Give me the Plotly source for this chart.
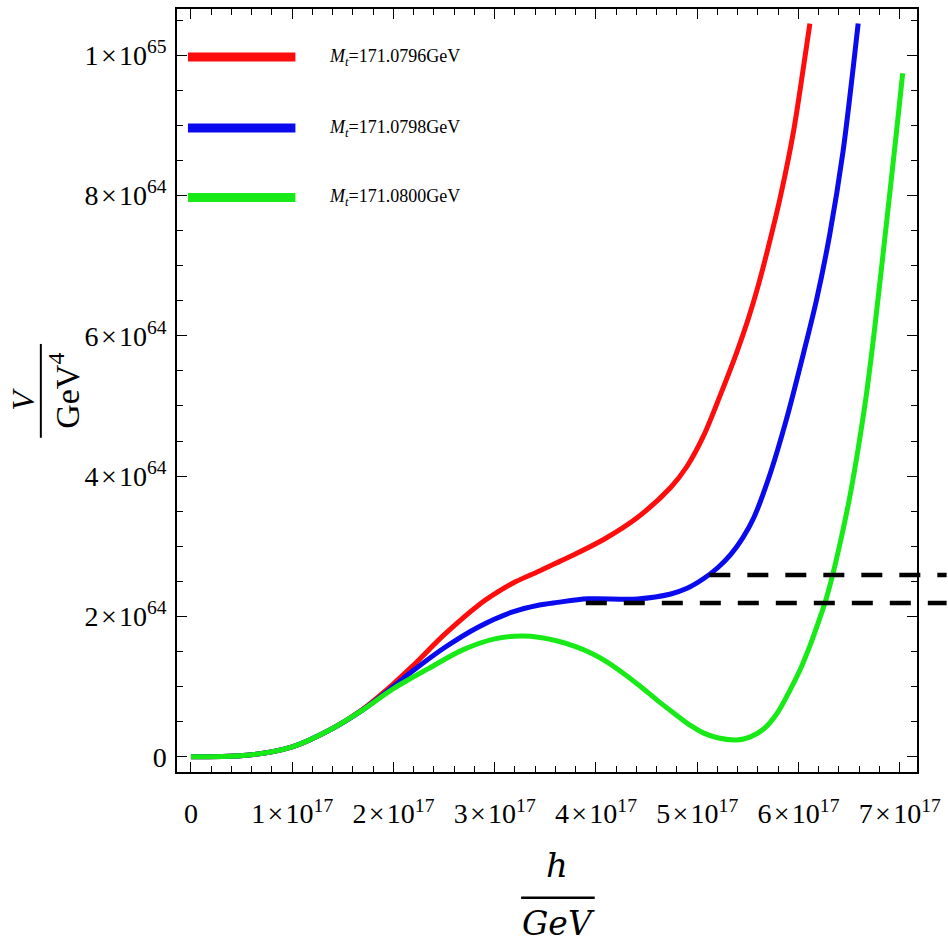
import numpy as np
import plotly.graph_objects as go

# ---------------- data (h in units of 1e17 GeV, V in units of 1e64 GeV^4) -------------
legend_names = ["<i>M</i><sub><i>t</i></sub>=171.0796GeV",
                "<i>M</i><sub><i>t</i></sub>=171.0798GeV",
                "<i>M</i><sub><i>t</i></sub>=171.0800GeV"]

red_h = [0, 0.55, 1.0, 1.37, 1.69, 2.0, 2.18, 2.51, 2.84, 3.0, 3.2, 3.43, 3.755, 4.08,
         4.41, 4.74, 4.90, 5.065, 5.23, 5.39, 5.50, 5.60, 5.70, 5.82, 5.95, 6.048, 6.113]
red_v = [0, 0.02, 0.14, 0.38, 0.67, 1.04, 1.28, 1.75, 2.16, 2.32, 2.49, 2.64, 2.86, 3.10,
         3.41, 3.84, 4.14, 4.58, 5.16, 5.76, 6.22, 6.70, 7.25, 7.97, 8.90, 9.81, 10.45]

blue_h = [0, 0.55, 1.0, 1.37, 1.69, 2.0, 2.18, 2.51, 2.84, 3.17, 3.43, 3.62, 3.92, 4.41,
          4.74, 4.90, 5.065, 5.20, 5.33, 5.45, 5.56, 5.72, 5.88, 6.05, 6.18, 6.31, 6.44,
          6.54, 6.59]
blue_v = [0, 0.02, 0.14, 0.38, 0.66, 1.0, 1.21, 1.56, 1.85, 2.06, 2.16, 2.20, 2.25, 2.25,
          2.32, 2.40, 2.54, 2.69, 2.88, 3.12, 3.41, 4.03, 4.80, 5.75, 6.52, 7.45, 8.62,
          9.81, 10.45]

green_h = [0, 0.55, 1.0, 1.37, 1.69, 2.0, 2.35, 2.68, 3.0, 3.26, 3.45, 3.62, 3.8, 3.95,
           4.1, 4.28, 4.45, 4.61, 4.78, 4.93, 5.06, 5.20, 5.39, 5.52, 5.66, 5.79, 5.917,
           6.02, 6.113, 6.20, 6.27, 6.336, 6.42, 6.50, 6.585, 6.67, 6.75, 6.857, 6.965,
           7.03]
green_v = [0, 0.02, 0.14, 0.38, 0.66, 0.97, 1.26, 1.52, 1.68, 1.72, 1.70, 1.65, 1.57, 1.48,
           1.36, 1.18, 0.99, 0.80, 0.61, 0.45, 0.34, 0.27, 0.24, 0.28, 0.40, 0.62, 0.95,
           1.25, 1.58, 1.93, 2.23, 2.58, 3.10, 3.65, 4.35, 5.15, 6.07, 7.44, 8.86, 9.74]

dash_levels = [2.19, 2.59]      # 1e64 GeV^4
dash_start = [3.9, 5.12]        # 1e17 GeV

x_ticks = [0, 1, 2, 3, 4, 5, 6, 7]
x_ticktext = ["0"] + [f"{k}\u200a\u00d7\u200a10<sup>17</sup>" for k in range(1, 8)]
y_ticks = [0, 2, 4, 6, 8, 10]
y_ticktext = ["0"] + [f"{m}\u200a\u00d7\u200a10<sup>{e}</sup>"
                      for m, e in [(2, 64), (4, 64), (6, 64), (8, 64), (1, 65)]]

HS, VS = 1e17, 1e64
x_range = [-0.1375 * HS, 7.171 * HS]
y_range = [-0.2175 * VS, 10.657 * VS]

colors = ["#ff0d0d", "#0a0aee", "#18ea18"]

fig = go.Figure()
for hh, vv, c in [(red_h, red_v, colors[0]), (blue_h, blue_v, colors[1]),
                  (green_h, green_v, colors[2])]:
    fig.add_trace(go.Scatter(x=np.array(hh) * HS, y=np.array(vv) * VS, mode="lines",
                             line=dict(color=c, width=5, shape="spline", smoothing=0.9),
                             showlegend=False, hoverinfo="skip"))

shapes = []
annotations = []
# dashed reference lines, extended past the right frame edge
for lvl, x0 in zip(dash_levels, dash_start):
    px0 = (x0 * HS - x_range[0]) / (x_range[1] - x_range[0])
    shapes.append(dict(type="line", xref="paper", yref="y", x0=px0, x1=1.04,
                       y0=lvl * VS, y1=lvl * VS,
                       line=dict(color="black", width=4.5, dash="21px,17px")))

# hand-drawn legend
leg_y = [0.937, 0.844, 0.753]
for name, c, ly in zip(legend_names, colors, leg_y):
    shapes.append(dict(type="line", xref="paper", yref="paper", x0=0.0148, x1=0.16,
                       y0=ly, y1=ly, line=dict(color=c, width=9)))
    annotations.append(dict(xref="paper", yref="paper", x=0.203, y=ly, text=name,
                            showarrow=False, xanchor="left", yanchor="middle",
                            font=dict(family="Liberation Serif", size=18, color="black")))

# y-axis title: V / GeV^4 (rotated fraction)
annotations.append(dict(xref="paper", yref="paper", x=-0.2083, y=0.489, text="<i>V</i>",
                        showarrow=False, textangle=-90, xanchor="center", yanchor="middle",
                        font=dict(family="Liberation Serif", size=32, color="black")))
shapes.append(dict(type="line", xref="paper", yref="paper", x0=-0.184, x1=-0.184,
                   y0=0.438, y1=0.561, line=dict(color="black", width=2)))
annotations.append(dict(xref="paper", yref="paper", x=-0.152, y=0.499,
                        text="GeV<sup>4</sup>", showarrow=False, textangle=-90,
                        xanchor="center", yanchor="middle",
                        font=dict(family="Liberation Serif", size=34, color="black")))

# x-axis title: h / GeV
annotations.append(dict(xref="paper", yref="paper", x=0.513, y=-0.1216, text="<i>h</i>",
                        showarrow=False, xanchor="center", yanchor="middle",
                        font=dict(family="DejaVu Serif", size=34, color="black")))
shapes.append(dict(type="line", xref="paper", yref="paper", x0=0.465, x1=0.5645,
                   y0=-0.1647, y1=-0.1647, line=dict(color="black", width=2.5)))
annotations.append(dict(xref="paper", yref="paper", x=0.515, y=-0.198, text="<i>GeV</i>",
                        showarrow=False, xanchor="center", yanchor="middle",
                        font=dict(family="DejaVu Serif", size=33, color="black")))

axis_common = dict(showgrid=False, zeroline=False, showline=True, linecolor="black",
                   linewidth=1.5, mirror="allticks", ticks="inside", ticklen=10,
                   tickwidth=1.2, tickcolor="black",
                   tickfont=dict(family="Liberation Serif", size=28, color="black"))

fig.update_layout(
    width=948, height=943,
    margin=dict(l=177, r=27, t=7, b=171),
    paper_bgcolor="white", plot_bgcolor="white",
    xaxis=dict(range=x_range, tickmode="array", tickvals=[v * HS for v in x_ticks],
               ticktext=x_ticktext, ticklabelstandoff=16,
               minor=dict(tick0=0, dtick=0.2 * HS, ticks="inside", ticklen=6,
                          tickcolor="black", tickwidth=1.2),
               **axis_common),
    yaxis=dict(range=y_range, tickmode="array", tickvals=[v * VS for v in y_ticks],
               ticktext=y_ticktext, ticklabelstandoff=3,
               minor=dict(tick0=0, dtick=0.5 * VS, ticks="inside", ticklen=6,
                          tickcolor="black", tickwidth=1.2),
               **axis_common),
    shapes=shapes, annotations=annotations,
)

fig.write_html("out.html", config={"displayModeBar": False},
               post_script="document.body.style.margin='0';document.body.style.overflow='hidden';")
